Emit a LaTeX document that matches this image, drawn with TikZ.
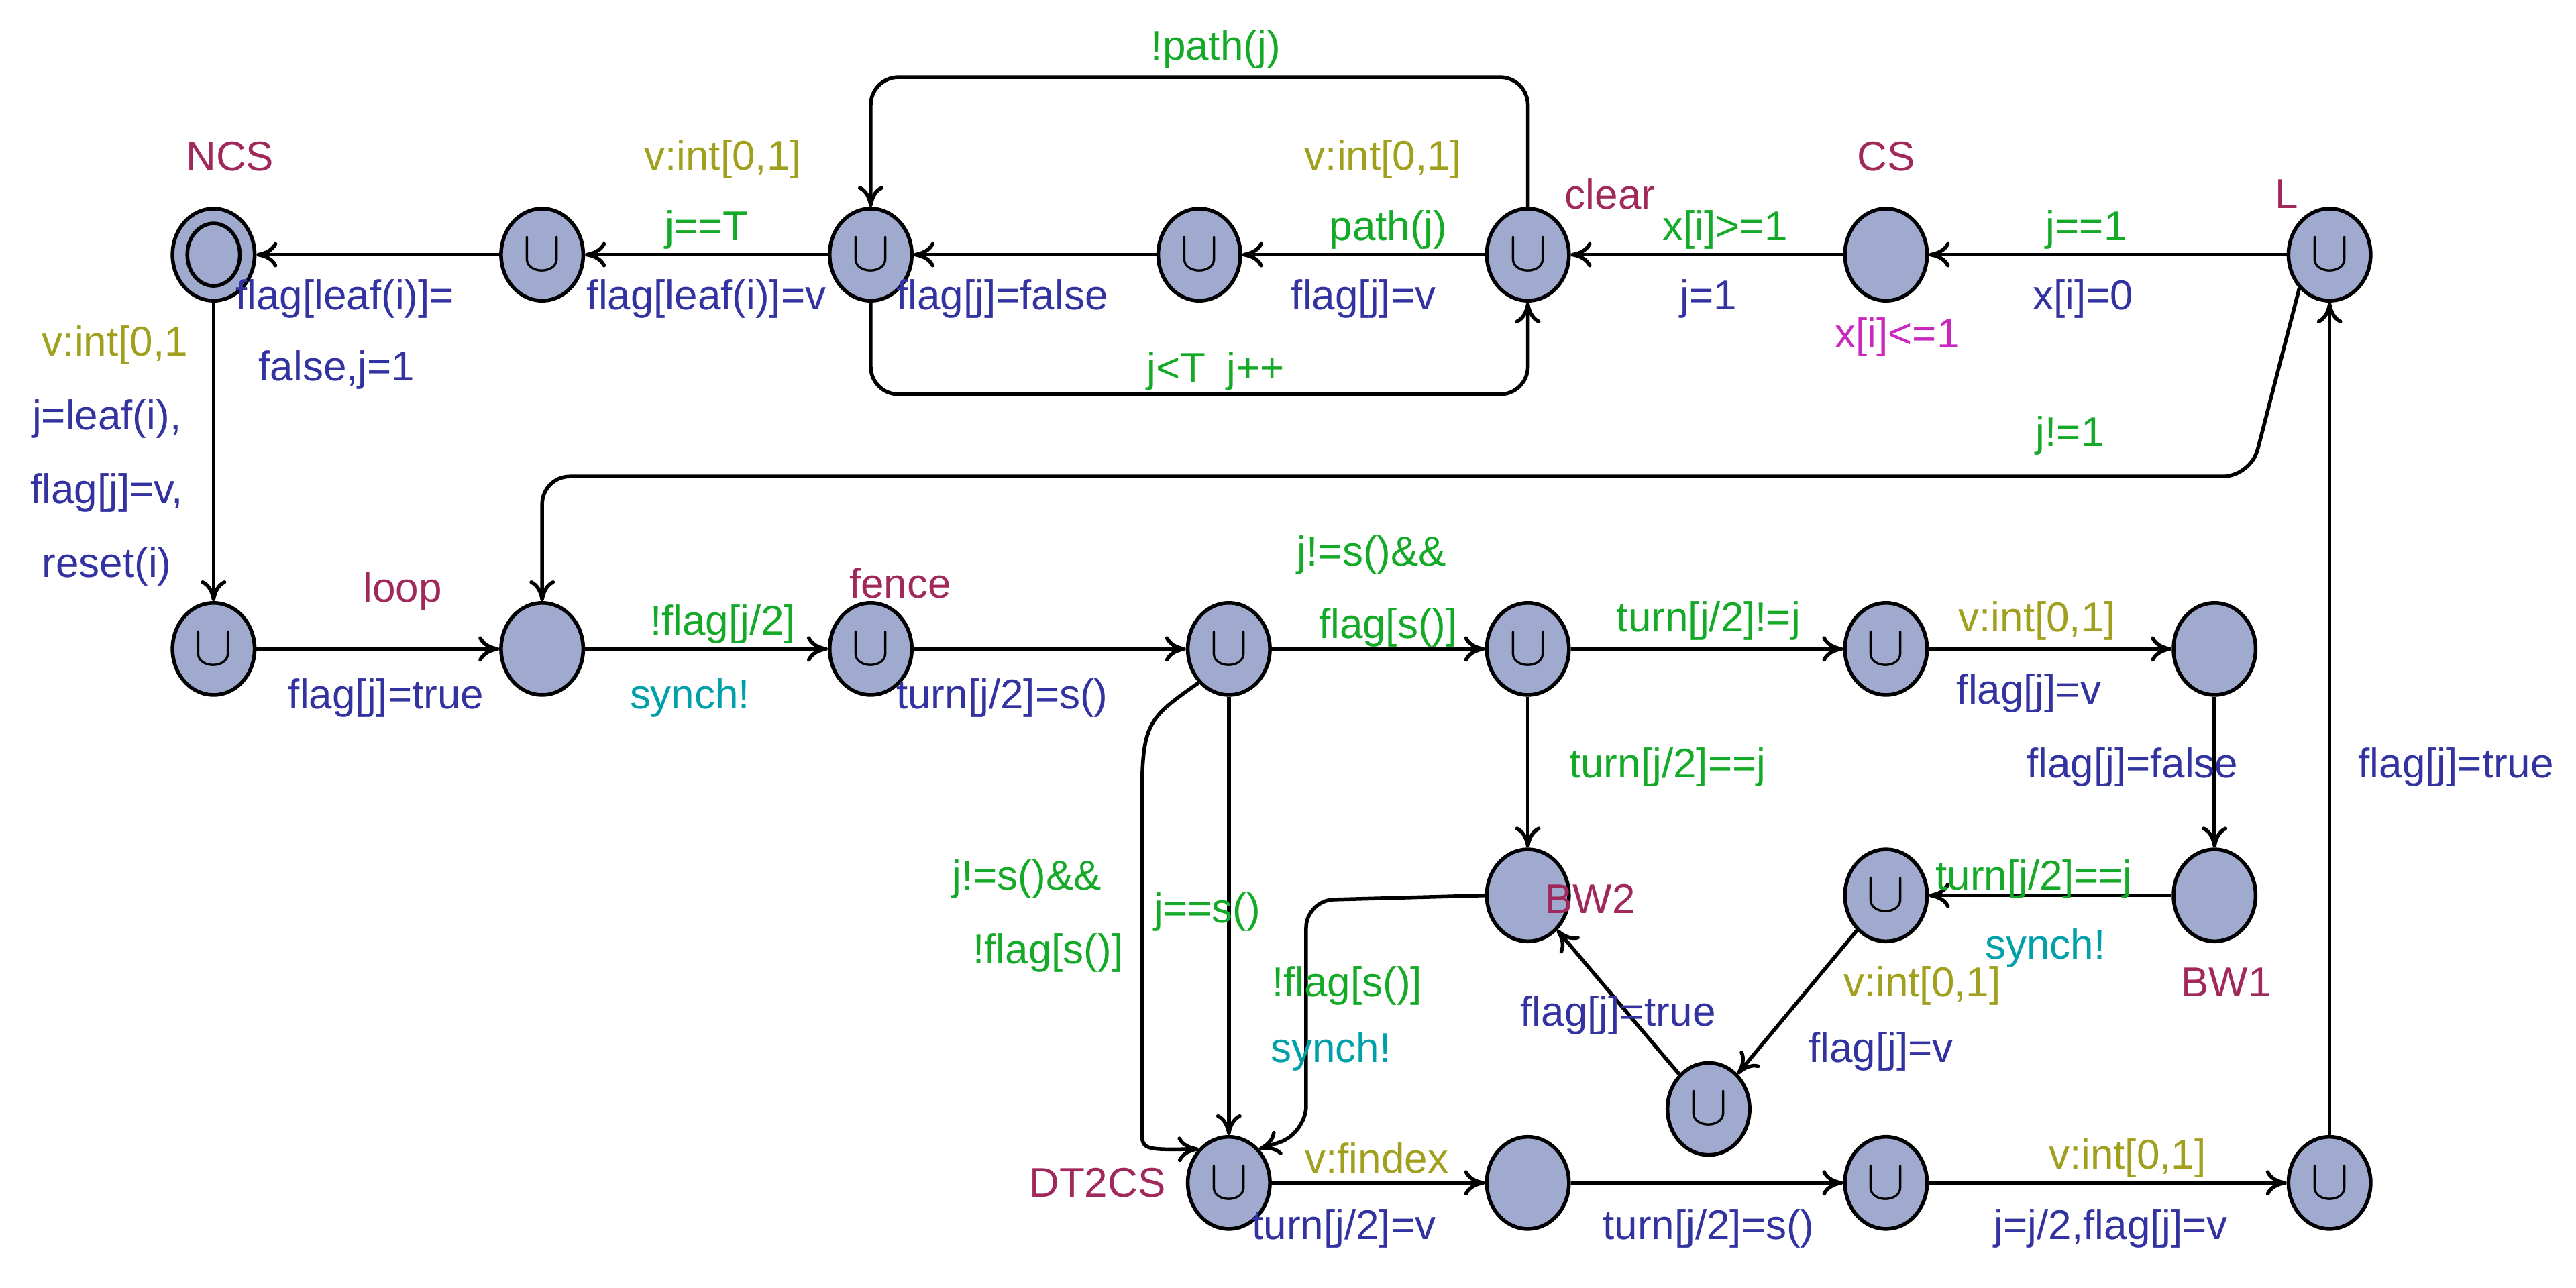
\documentclass[tikz,border=0pt]{standalone}
\usepackage{fontspec}
\setmainfont{Liberation Sans}
\usetikzlibrary{arrows.meta,shapes.geometric}
\definecolor{locfill}{RGB}{160,170,207}
\definecolor{cname}{RGB}{160,40,90}
\definecolor{cguard}{RGB}{20,170,40}
\definecolor{cupd}{RGB}{50,50,160}
\definecolor{csel}{RGB}{160,160,30}
\definecolor{csync}{RGB}{0,160,170}
\definecolor{cinv}{RGB}{200,40,190}
\tikzset{
  loc/.style={ellipse,draw,fill=locfill,line width=1.6pt,minimum width=1.25cm,minimum height=1.4cm,inner sep=0pt},
  urg/.style={loc,label={[font=\fontsize{26}{26}\selectfont]center:$\cup$}},
  edge/.style={line width=1.6pt,-{To[length=9pt,width=11pt,line width=1.6pt]},rounded corners=12pt},
  lbl/.style={font=\fontsize{18}{20}\selectfont,inner sep=1pt},
  locname/.style={lbl,text=cname},
  grd/.style={lbl,text=cguard},
  upd/.style={lbl,text=cupd},
  sel/.style={lbl,text=csel},
  syn/.style={lbl,text=csync},
  inv/.style={lbl,text=cinv}
}
\begin{document}
\begin{tikzpicture}[x=0.025cm,y=-0.025cm]
\useasboundingbox (0,0) rectangle (1568,784);
% locations
\node[loc] (ncs) at (130,155) {};
\draw[line width=1.6pt] (130,155) ellipse (16 and 19);
\node[urg] (a1) at (330,155) {};
\node[urg] (a2) at (530,155) {};
\node[urg] (a3) at (730,155) {};
\node[urg] (clear) at (930,155) {};
\node[loc] (cs) at (1148,155) {};
\node[urg] (l) at (1418,155) {};
\node[urg] (b0) at (130,395) {};
\node[loc] (loop) at (330,395) {};
\node[urg] (fence) at (530,395) {};
\node[urg] (b1) at (748,395) {};
\node[urg] (b2) at (930,395) {};
\node[urg] (b3) at (1148,395) {};
\node[loc] (b4) at (1348,395) {};
\node[loc] (bw2) at (930,545) {};
\node[urg] (c1) at (1148,545) {};
\node[loc] (bw1) at (1348,545) {};
\node[urg] (c2) at (1040,675) {};
\node[urg] (dt) at (748,720) {};
\node[loc] (d1) at (930,720) {};
\node[urg] (d2) at (1148,720) {};
\node[urg] (d3) at (1418,720) {};
% names
\node[locname] at (140,95) {NCS};
\node[locname] at (980,118) {clear};
\node[locname] at (1148,95) {CS};
\node[locname] at (1392,118) {L};
\node[locname] at (245,360) {loop};
\node[locname] at (548,355) {fence};
\node[locname] at (968,547) {BW2};
\node[locname] at (1355,598) {BW1};
\node[locname] at (668,720) {DT2CS};
\node[inv] at (1155,205) {x[i]<=1};
% top row
\draw[edge] (l) -- (cs);
\node[grd] at (1270,140) {j==1};
\node[upd] at (1268,182) {x[i]=0};
\draw[edge] (cs) -- (clear);
\node[grd] at (1050,140) {x[i]>=1};
\node[upd] at (1040,182) {j=1};
\draw[edge] (clear) -- (a3);
\node[sel] at (842,97) {v:int[0,1]};
\node[grd] at (845,140) {path(j)};
\node[upd] at (830,182) {flag[j]=v};
\draw[edge] (clear.north) -- (930,47) -- (530,47) -- (a2.north);
\node[grd] at (740,30) {!path(j)};
\draw[edge] (a2.south) -- (530,240) -- (930,240) -- (clear.south);
\node[grd] at (740,226) {j<T\enspace j++};
\draw[edge] (a3) -- (a2);
\node[upd] at (610,182) {flag[j]=false};
\draw[edge] (a2) -- (a1);
\node[sel] at (440,97) {v:int[0,1]};
\node[grd] at (430,140) {j==T};
\node[upd] at (430,182) {flag[leaf(i)]=v};
\draw[edge] (a1) -- (ncs);
\node[upd] at (210,182) {flag[leaf(i)]=};
\node[upd] at (205,225) {false,j=1};
\draw[edge] (ncs) -- (b0);
\node[sel] at (70,210) {v:int[0,1};
\node[upd] at (65,255) {j=leaf(i),};
\node[upd] at (65,300) {flag[j]=v,};
\node[upd] at (65,345) {reset(i)};
% middle row
\draw[edge] (b0) -- (loop);
\node[upd] at (235,425) {flag[j]=true};
\draw[edge] (l.south west) -- (1370,290) -- (330,290) -- (loop.north);
\node[grd] at (1260,265) {j!=1};
\draw[edge] (loop) -- (fence);
\node[grd] at (440,380) {!flag[j/2]};
\node[syn] at (420,425) {synch!};
\draw[edge] (fence) -- (b1);
\node[upd] at (610,425) {turn[j/2]=s()};
\draw[edge] (b1) -- (b2);
\node[grd] at (835,338) {j!=s()\&\&};
\node[grd] at (845,382) {flag[s()]};
\draw[edge] (b2) -- (b3);
\node[grd] at (1040,378) {turn[j/2]!=j};
\draw[edge] (b3) -- (b4);
\node[sel] at (1240,378) {v:int[0,1]};
\node[upd] at (1235,422) {flag[j]=v};
\draw[edge] (b4) -- (bw1);
\node[upd] at (1298,467) {flag[j]=false};
\draw[edge] (bw1) -- (c1);
\node[grd] at (1238,535) {turn[j/2]==j};
\node[syn] at (1245,577) {synch!};
\draw[edge] (c1) -- (c2);
\node[sel] at (1170,600) {v:int[0,1]};
\node[upd] at (1145,640) {flag[j]=v};
\draw[edge] (c2) -- (bw2);
\node[upd] at (985,618) {flag[j]=true};
\draw[edge] (b2) -- (bw2);
\node[grd] at (1015,467) {turn[j/2]==j};
% lower part
\draw[edge] (bw2.west) -- (795,548) -- (795,690) -- (dt.north east);
\node[grd] at (820,600) {!flag[s()]};
\node[syn] at (810,640) {synch!};
\draw[edge] (b1) -- (dt);
\node[grd] at (735,555) {j==s()};
\draw[edge] (b1.south west) .. controls (695,440) .. (695,520) -- (695,670) .. controls (695,700) .. (dt.north west);
\node[grd] at (625,535) {j!=s()\&\&};
\node[grd] at (638,580) {!flag[s()]};
\draw[edge] (dt) -- (d1);
\node[sel] at (838,705) {v:findex};
\node[upd] at (818,748) {turn[j/2]=v};
\draw[edge] (d1) -- (d2);
\node[upd] at (1040,748) {turn[j/2]=s()};
\draw[edge] (d2) -- (d3);
\node[sel] at (1295,705) {v:int[0,1]};
\node[upd] at (1285,748) {j=j/2,flag[j]=v};
\draw[edge] (d3) -- (l);
\node[upd] at (1495,467) {flag[j]=true};
\end{tikzpicture}
\end{document}
